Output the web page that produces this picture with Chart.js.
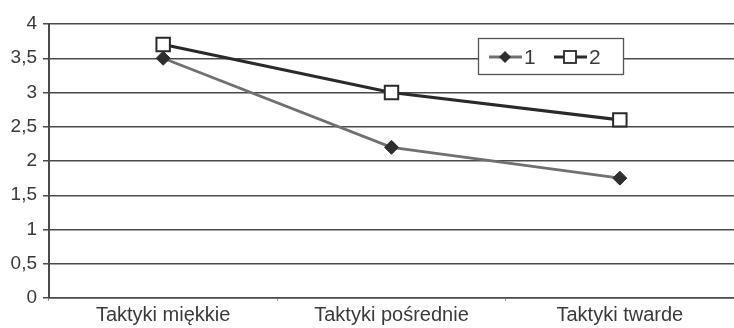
<!DOCTYPE html>
<html>
<head>
<meta charset="utf-8">
<script src="https://cdn.jsdelivr.net/npm/chart.js@4"></script>
<style>
  html, body { margin: 0; padding: 0; background: #fff; overflow: hidden; }
  #wrap { width: 734px; height: 328px; position: relative; }
</style>
</head>
<body>
<div id="wrap"><canvas id="chart"></canvas></div>
<script>
const categories = ["Taktyki miękkie", "Taktyki pośrednie", "Taktyki twarde"]
const series1 = [3.5, 2.2, 1.75]
const series2 = [3.7, 3.0, 2.6]
const seriesLabels = ["1", "2"]

const gridColor = "#4a4a4a"
const textColor = "#3a3a3a"
const fontFamily = "'Liberation Sans', Arial, sans-serif"

// legend drawn inside the plot area, like the original
const insideLegend = {
  id: "insideLegend",
  afterDraw(chart) {
    const ctx = chart.ctx
    const x = 478, y = 38, w = 145, h = 36
    ctx.save()
    ctx.fillStyle = "#fff"
    ctx.fillRect(x, y, w, h)
    ctx.strokeStyle = "#555"
    ctx.lineWidth = 1.3
    ctx.strokeRect(x + 0.5, y + 0.5, w, h)
    ctx.font = "21px " + fontFamily
    ctx.textBaseline = "middle"
    const cy = y + h / 2 + 1
    let lx = x + 11
    chart.data.datasets.forEach((ds) => {
      ctx.strokeStyle = ds.borderColor
      ctx.lineWidth = 3
      ctx.beginPath()
      ctx.moveTo(lx, cy)
      ctx.lineTo(lx + 33, cy)
      ctx.stroke()
      ctx.lineWidth = 1.8
      if (ds.pointStyle === "rectRot") {
        ctx.fillStyle = ds.pointBackgroundColor
        ctx.beginPath()
        ctx.moveTo(lx + 16, cy - 6)
        ctx.lineTo(lx + 22, cy)
        ctx.lineTo(lx + 16, cy + 6)
        ctx.lineTo(lx + 10, cy)
        ctx.closePath()
        ctx.fill()
      } else {
        ctx.fillStyle = "#fff"
        ctx.fillRect(lx + 10, cy - 6, 12, 12)
        ctx.strokeStyle = ds.pointBorderColor
        ctx.strokeRect(lx + 10, cy - 6, 12, 12)
      }
      ctx.fillStyle = textColor
      ctx.fillText(ds.label, lx + 35, cy + 1)
      lx += 65
    })
    ctx.restore()
  }
}

new Chart(document.getElementById("chart"), {
  type: "line",
  data: {
    labels: categories,
    datasets: [
      {
        label: seriesLabels[0],
        data: series1,
        borderColor: "#707070",
        borderWidth: 2.8,
        pointStyle: "rectRot",
        pointRadius: 7,
        pointBackgroundColor: "#2e2e2e",
        pointBorderColor: "#2e2e2e",
        pointBorderWidth: 1,
        tension: 0,
      },
      {
        label: seriesLabels[1],
        data: series2,
        borderColor: "#2a2a2a",
        borderWidth: 3.2,
        pointStyle: "rect",
        pointRadius: 9.5,
        pointBackgroundColor: "#fff",
        pointBorderColor: "#2a2a2a",
        pointBorderWidth: 2,
        tension: 0,
      },
    ],
  },
  options: {
    responsive: true,
    maintainAspectRatio: false,
    animation: false,
    layout: { autoPadding: false, padding: { top: 24, right: -3, left: 0, bottom: 0 } },
    plugins: {
      legend: { display: false },
      tooltip: { enabled: false },
    },
    scales: {
      x: {
        offset: true,
        grid: { display: true, drawOnChartArea: false, offset: true, color: "#999", tickLength: 3 },
        border: { color: gridColor, width: 1.5 },
        ticks: {
          color: textColor,
          font: { family: fontFamily, size: 20 },
          padding: 2,
          maxRotation: 0,
        },
        afterFit(scale) {
          scale.height = 30
          scale.paddingRight = 0
          scale.paddingLeft = 0
        },
      },
      y: {
        min: 0,
        max: 4,
        ticks: {
          stepSize: 0.5,
          color: textColor,
          font: { family: fontFamily, size: 19 },
          padding: 6,
          callback: (v) => String(v).replace(".", ","),
        },
        grid: { color: gridColor, lineWidth: 1.5, tickLength: 6 },
        border: { color: gridColor, width: 2 },
        afterFit(scale) {
          scale.width = 49
          scale.paddingTop = 0
          scale.paddingBottom = 0
        },
      },
    },
  },
  plugins: [insideLegend],
})
</script>
</body>
</html>
